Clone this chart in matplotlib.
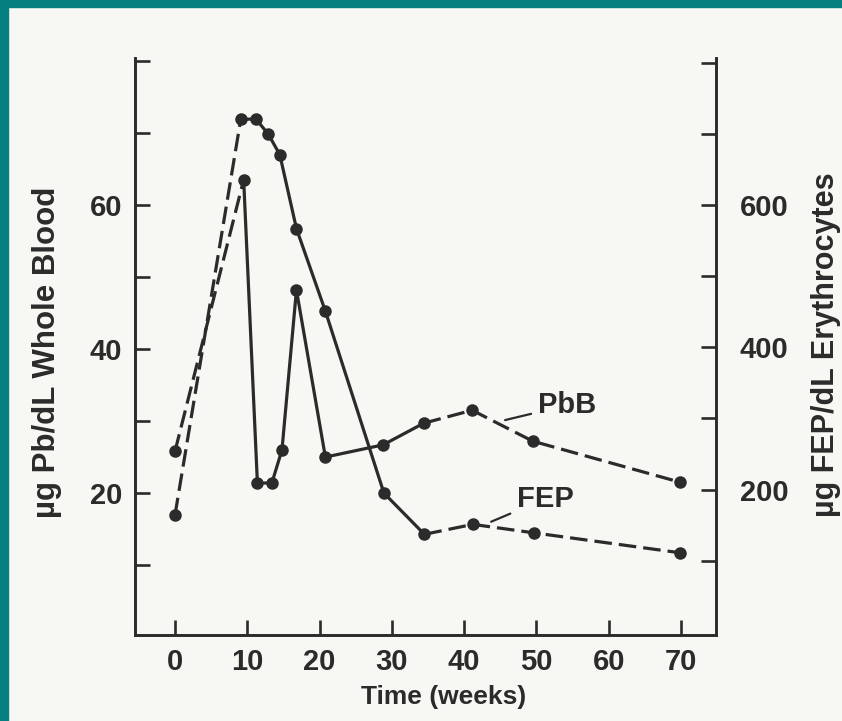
import matplotlib
matplotlib.use("Agg")
import matplotlib.pyplot as plt
from matplotlib.patches import Rectangle

# ── DATA ────────────────────────────────────────────────────────────────────
pbb_weeks = [0, 9.5, 11.4, 13.4, 14.8, 16.8, 20.8, 28.8, 34.4, 41.1, 49.5, 69.9]
pbb_vals  = [25.8, 63.5, 21.4, 21.4, 26.0, 48.2, 25.0, 26.7, 29.7, 31.5, 27.2, 21.5]

fep_weeks = [0, 9.1, 11.2, 12.9, 14.5, 16.8, 20.8, 28.9, 34.5, 41.2, 49.7, 69.9]
fep_vals  = [164, 721, 721, 700, 671, 567, 451, 195, 137, 151, 139, 111]

# point ranges drawn solid (the rest is dashed)
SOLID_FROM, SOLID_TO = 1, 8

x_ticks       = [0, 10, 20, 30, 40, 50, 60, 70]
left_ticks    = [10, 20, 30, 40, 50, 60, 70, 80]
left_labels   = ["", "20", "", "40", "", "60", "", ""]
right_ticks   = [100, 200, 300, 400, 500, 600, 700, 800]
right_labels  = ["", "200", "", "400", "", "600", "", ""]

# ── STYLE ───────────────────────────────────────────────────────────────────
INK    = "#2b2b2b"
PAPER  = "#f7f7f3"
TEAL   = "#067f80"
FONT   = ["Liberation Sans", "DejaVu Sans"]
DASH   = (0, (5.5, 2.2))

plt.rcParams["font.family"] = FONT
plt.rcParams["font.weight"] = "bold"

W, H = 842, 721
fig = plt.figure(figsize=(W / 100, H / 100), dpi=100)
fig.patch.set_facecolor(PAPER)

# teal frame strips (top and left)
fig.patches.append(Rectangle((0, 1 - 7 / H), 1, 7 / H, transform=fig.transFigure,
                             color=TEAL, zorder=0))
fig.patches.append(Rectangle((0, 0), 8 / W, 1, transform=fig.transFigure,
                             color=TEAL, zorder=0))

ax = fig.add_axes([135 / W, 1 - 635 / H, (716 - 135) / W, (635 - 58) / H])
ax.set_facecolor("none")
ax2 = ax.twinx()

ax.set_xlim(-5.53, 74.83)
ax.set_ylim(0.3, 80.4)
ax2.set_ylim(-4.6, 807)


def draw_series(axis, xs, ys):
    # dashed lead-in, solid middle, dashed tail
    axis.plot(xs[:SOLID_FROM + 1], ys[:SOLID_FROM + 1], color=INK, lw=2.3, ls=DASH)
    axis.plot(xs[SOLID_FROM:SOLID_TO + 1], ys[SOLID_FROM:SOLID_TO + 1], color=INK, lw=2.3)
    axis.plot(xs[SOLID_TO:], ys[SOLID_TO:], color=INK, lw=2.3, ls=DASH)
    axis.plot(xs, ys, ls="none", marker="o", ms=8, color=INK)


draw_series(ax, pbb_weeks, pbb_vals)
draw_series(ax2, fep_weeks, fep_vals)

# spines / ticks
for a in (ax, ax2):
    a.spines["top"].set_visible(False)
    for s in a.spines.values():
        s.set_linewidth(1.9)
        s.set_color(INK)

ax.set_xticks(x_ticks)
ax.set_xticklabels([str(t) for t in x_ticks])
ax.set_yticks(left_ticks)
ax.set_yticklabels(left_labels)
ax2.set_yticks(right_ticks)
ax2.set_yticklabels(right_labels)

ax.tick_params(axis="x", direction="in", length=11, width=1.9, color=INK,
               labelsize=21, pad=9, labelcolor=INK)
ax.tick_params(axis="y", direction="in", length=11, width=1.9, color=INK,
               labelsize=21, pad=9, labelcolor=INK)
ax2.tick_params(axis="y", direction="in", length=11, width=1.9, color=INK,
                labelsize=21, pad=17, labelcolor=INK)

# series labels
ax.annotate("PbB", xy=(45.1, 30.0), xytext=(50.2, 32.2), ha="left", va="center",
            fontsize=21, fontweight="bold", color=INK,
            arrowprops=dict(arrowstyle="-", lw=1.6, color=INK, shrinkA=3, shrinkB=3))
ax.annotate("FEP", xy=(43.2, 15.8), xytext=(47.3, 19.2), ha="left", va="center",
            fontsize=21, fontweight="bold", color=INK,
            arrowprops=dict(arrowstyle="-", lw=1.6, color=INK, shrinkA=3, shrinkB=3))

# axis titles
fig.text(444 / W, 1 - 697 / H, "Time (weeks)", ha="center", va="center",
         fontsize=19, fontweight="bold", color=INK)
fig.text(47 / W, 1 - 352 / H, "µg Pb/dL Whole Blood", rotation=90,
         ha="center", va="center", fontsize=22.5, fontweight="bold", color=INK)
fig.text(826 / W, 1 - 345 / H, "µg FEP/dL Erythrocytes", rotation=90,
         ha="center", va="center", fontsize=22, fontweight="bold", color=INK)

fig.savefig("out.png", dpi=100, facecolor=fig.get_facecolor())
